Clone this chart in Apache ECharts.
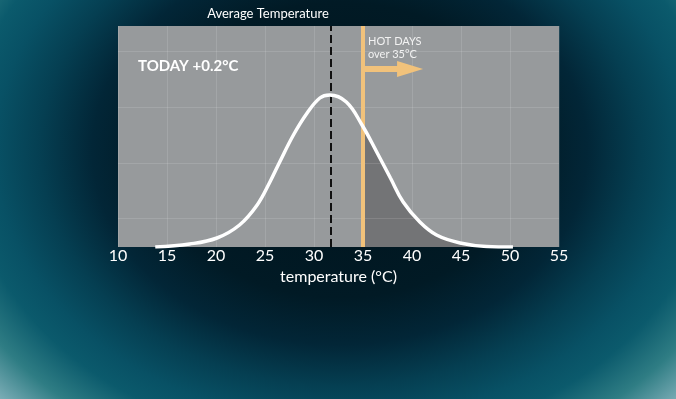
<!DOCTYPE html>
<html>
<head>
<meta charset="utf-8">
<script src="https://cdn.jsdelivr.net/npm/echarts@6/dist/echarts.min.js"></script>
<style>
  html, body { margin: 0; padding: 0; background: #011b27; }
  #chart { width: 676px; height: 399px; }
</style>
</head>
<body>
<div id="chart"></div>
<script>
// values
var temps = [13.8, 17.3, 20.1, 22.4, 24.2, 25.5, 26.5, 27.9, 29.3, 30.6, 31.6, 33.3, 34.9, 36.4, 37.8, 39.1, 40.8, 42.5, 44.9, 47.6, 50.3];
var freq = [0, 3, 9, 22, 42, 65, 85, 112, 134, 149, 152, 145, 122, 95, 69, 45, 25, 12, 4, 0.5, 0];
var hotTemps = [35, 36.4, 37.8, 39.1, 40.8, 42.5, 44.9, 47.6, 50.3];
var hotFreq = [121, 95, 69, 45, 25, 12, 4, 0.5, 0];
var xTicks = [10, 15, 20, 25, 30, 35, 40, 45, 50, 55];
var avgTemp = 31.7;
var hotLimit = 35;
var arrowEnd = 39.8;
var arrowLevel = 178;
var hLines = [29, 84, 140, 196];

var font = 'Lato, "Open Sans", sans-serif';

function pairs(xs, ys) {
    var out = [];
    for (var i = 0; i < xs.length; i++) out.push([xs[i], ys[i]]);
    return out;
}

// elliptical vignette: gradient drawn in a unit circle, then stretched
function backdrop() {
    var k = 1.3;
    return {
        type: 'rect', z: -100, silent: true,
        x: 340, y: 150, scaleX: 375 / 100, scaleY: 295 / 100,
        shape: { x: -200, y: -200, width: 400, height: 400 },
        style: {
            fill: new echarts.graphic.RadialGradient(0, 0, 100 * k, [
                { offset: 0, color: '#00131c' },
                { offset: 0.5 / k, color: '#011a25' },
                { offset: 0.66 / k, color: '#022637' },
                { offset: 0.8 / k, color: '#053f52' },
                { offset: 0.92 / k, color: '#085165' },
                { offset: 1.0 / k, color: '#0b5a6c' },
                { offset: 1.12 / k, color: '#2f7d84' },
                { offset: 1, color: '#a3c6d0' }
            ], true)
        }
    };
}

var chart = echarts.init(document.getElementById('chart'));

chart.setOption({
    animation: false,
    graphic: [
        backdrop(),
        {
            type: 'text', z: 100, silent: true,
            style: {
                text: 'Average Temperature', x: 268, y: 14,
                fill: '#ffffff', font: '13px ' + font,
                align: 'center', verticalAlign: 'middle'
            }
        },
        {
            type: 'text', z: 100, silent: true,
            style: {
                text: 'TODAY +0.2°C', x: 138, y: 66,
                fill: '#ffffff', font: 'bold 15px ' + font,
                align: 'left', verticalAlign: 'middle'
            }
        },
        {
            type: 'text', z: 100, silent: true,
            style: {
                text: 'HOT DAYS\nover 35°C', x: 368, y: 48,
                fill: '#f2f2f2', font: '11px ' + font, lineHeight: 13,
                align: 'left', verticalAlign: 'middle'
            }
        }
    ],
    grid: {
        left: 118, right: 117, top: 26, bottom: 152,
        show: true, backgroundColor: '#979a9c', borderWidth: 0
    },
    xAxis: {
        type: 'value', min: 10, max: 55, interval: 5,
        axisLine: { show: false },
        axisTick: { show: false },
        splitLine: { show: true, lineStyle: { color: 'rgba(255,255,255,0.12)', width: 1 } },
        axisLabel: {
            color: '#ffffff', fontSize: 16, fontFamily: font, margin: 1,
            formatter: function (v) { return xTicks.indexOf(v) > -1 ? String(v) : ''; }
        },
        name: 'temperature (°C)', nameLocation: 'middle', nameGap: 21,
        nameTextStyle: { color: '#ffffff', fontSize: 16, fontFamily: font }
    },
    yAxis: {
        type: 'value', min: 0, max: 221, show: false,
        splitLine: { show: false }
    },
    series: [
        {
            type: 'line', silent: true, z: 1,
            data: [], showSymbol: false,
            markLine: {
                silent: true, symbol: 'none', animation: false,
                label: { show: false },
                lineStyle: { color: 'rgba(255,255,255,0.12)', width: 1, type: 'solid' },
                data: hLines.map(function (v) { return { yAxis: v }; })
            }
        },
        {
            type: 'line', silent: true, z: 2,
            data: pairs(hotTemps, hotFreq),
            smooth: 0.4, showSymbol: false,
            lineStyle: { width: 0 },
            areaStyle: { color: '#737476', opacity: 1 }
        },
        {
            type: 'line', silent: true, z: 3,
            data: [], showSymbol: false,
            markLine: {
                silent: true, symbol: 'none', animation: false,
                label: { show: false },
                data: [
                    { xAxis: avgTemp, lineStyle: { color: '#111111', width: 2, type: [8, 4] } }
                ]
            }
        },
        {
            type: 'line', silent: true, z: 5,
            data: pairs(temps, freq),
            smooth: 0.4, showSymbol: false,
            lineStyle: { color: '#ffffff', width: 3.5 }
        },
        {
            type: 'line', silent: true, z: 6,
            data: [], showSymbol: false,
            markLine: {
                silent: true, animation: false,
                label: { show: false },
                data: [
                    [
                        { xAxis: hotLimit, yAxis: 0, symbol: 'none', lineStyle: { color: '#f1c27b', width: 4, type: 'solid' } },
                        { xAxis: hotLimit, yAxis: 221, symbol: 'none' }
                    ],
                    [
                        { coord: [hotLimit, arrowLevel], symbol: 'none', lineStyle: { color: '#f1c27b', width: 6, type: 'solid' } },
                        { coord: [arrowEnd, arrowLevel], symbol: 'triangle', symbolSize: [16, 26] }
                    ]
                ]
            }
        }
    ]
});
</script>
</body>
</html>
